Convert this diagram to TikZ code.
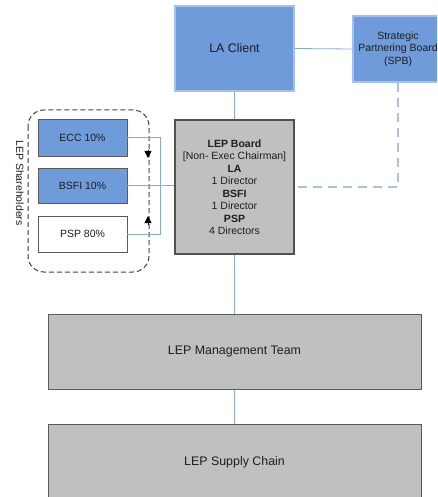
\documentclass[tikz,border=0pt]{standalone}
\usepackage{fontspec}
\setmainfont{Liberation Sans}
\usetikzlibrary{arrows.meta}
\definecolor{blfill}{HTML}{6F9BDB}
\definecolor{blborder}{HTML}{A3C1EC}
\definecolor{grfill}{HTML}{C0C0C0}
\definecolor{grborder}{HTML}{5A5A5A}
\definecolor{grpborder}{HTML}{404040}
\definecolor{conn}{HTML}{86A9E0}
\definecolor{dconn}{HTML}{A8C1E8}
\definecolor{txt}{HTML}{1E1E1E}
\tikzset{
  box/.style={draw, rectangle, inner sep=0pt, text=txt, align=center},
  bigtxt/.style={font=\fontsize{12.4}{14}\selectfont},
  smalltxt/.style={font=\fontsize{10.5}{12.5}\selectfont},
  bluebox/.style={box, fill=blfill, draw=blborder, line width=1.6pt},
  sharebox/.style={box, draw=grborder, line width=0.8pt, smalltxt, minimum width=89pt},
  graybox/.style={box, fill=grfill, draw=grborder, line width=1pt},
  link/.style={draw=conn, line width=0.8pt},
  dlink/.style={draw=dconn, line width=1.2pt, dash pattern=on 9pt off 6pt},
  tip/.style={-{Triangle[length=7pt,width=7pt]}, line width=0.8pt, black},
}
\begin{document}
\begin{tikzpicture}[x=1pt, y=-1pt]
\clip (0,0) rectangle (437,497);
\useasboundingbox (0,0) rectangle (437,497);
\fill[white] (0,0) rectangle (437,497);

% nodes
\node[bluebox, bigtxt, minimum width=119pt, minimum height=85pt] (la) at (234.5,48.5) {LA Client};
\node[bluebox, smalltxt, minimum width=90pt, minimum height=66pt] (spb) at (398,49) {Strategic\\Partnering Board\\(SPB)};
\node[graybox, smalltxt, minimum width=119pt, minimum height=134pt, line width=1.5pt, draw=grborder!90!black] (board) at (234.5,187)
  {\textbf{LEP Board}\\{[Non- Exec Chairman]}\\\textbf{LA}\\1 Director\\\textbf{BSFI}\\1 Director\\\textbf{PSP}\\4 Directors};
\node[sharebox, fill=blfill, minimum height=37pt] (ecc) at (82.5,137.5) {ECC 10\%};
\node[sharebox, fill=blfill, minimum height=35pt] (bsfi) at (82.5,185.5) {BSFI 10\%};
\node[sharebox, fill=white, minimum height=36pt] (psp) at (82.5,234) {PSP 80\%};
\node[graybox, bigtxt, minimum width=373pt, minimum height=75pt] (mgmt) at (234.5,351.5) {LEP Management Team};
\node[graybox, bigtxt, minimum width=373pt, minimum height=76pt] (supply) at (234.5,462) {LEP Supply Chain};

% shareholders group
\draw[draw=grpborder, line width=1pt, dash pattern=on 5pt off 3pt, rounded corners=16pt] (28,110) rectangle (149,272);
\node[smalltxt, text=txt, rotate=-90] (shlabel) at (20,183) {LEP Shareholders};
\coordinate (ad) at (148,150);
\coordinate (ad2) at (148,158);
\coordinate (au) at (148,225);
\coordinate (au2) at (148,216);
\draw[tip] (ad) -- (ad2);
\draw[tip] (au) -- (au2);

% connectors
\coordinate (bend) at (160,137.5);
\draw[link] (ecc.east) -- (bend) |- (psp.east);
\draw[link] (bsfi.east) -- (bsfi.east -| board.west);
\draw[link] (la.east) -- (spb.west);
\draw[link] (la.south) -- (board.north);
\draw[link] (board.south) -- (mgmt.north);
\draw[link] (mgmt.south) -- (supply.north);
\draw[dlink] (spb.south) |- (board.east);
\end{tikzpicture}
\end{document}
